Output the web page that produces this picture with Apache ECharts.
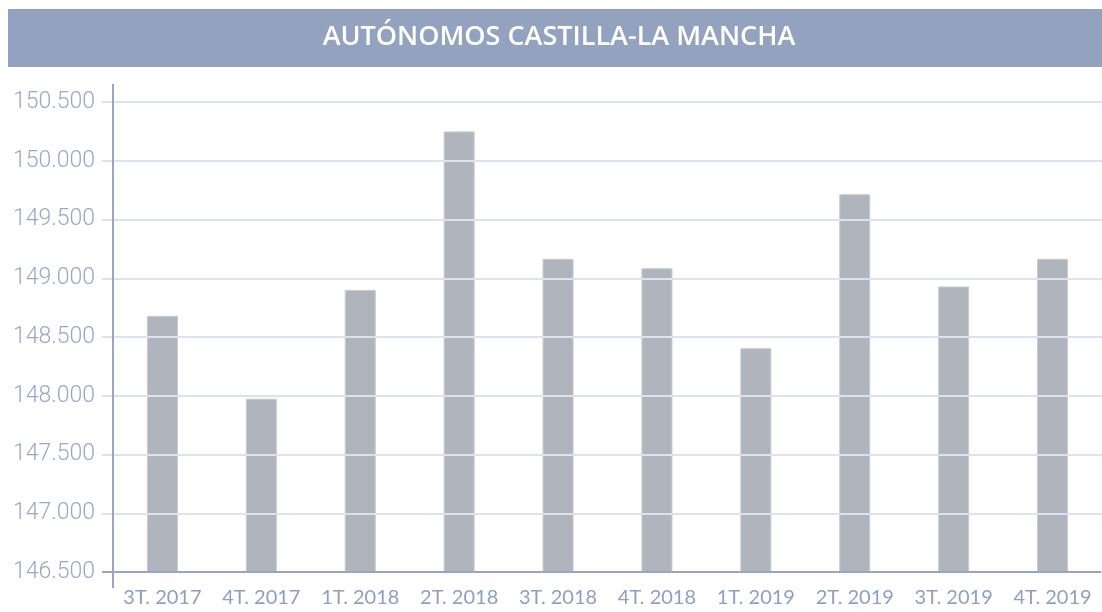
<!DOCTYPE html>
<html>
<head>
<meta charset="utf-8">
<script src="https://cdn.jsdelivr.net/npm/echarts@6/dist/echarts.min.js"></script>
<style>
html,body{margin:0;padding:0;background:#fff;}
#chart{width:1102px;height:612px;}
</style>
</head>
<body>
<div id="chart"></div>
<script>
var titleText = 'AUTÓNOMOS CASTILLA-LA MANCHA';
var categories = ['3T. 2017','4T. 2017','1T. 2018','2T. 2018','3T. 2018','4T. 2018','1T. 2019','2T. 2019','3T. 2019','4T. 2019'];
var values = [148680, 147975, 148900, 150250, 149165, 149085, 148405, 149715, 148930, 149165];
var yMin = 146500, yMax = 150500, yStep = 500;

var G = {left:113, right:0, top:102, bottom:40};
var W = 1102, H = 612;
var axisColor = '#98a6c4';
var gridColor = '#dde3ee';

var chart = echarts.init(document.getElementById('chart'), null, {renderer:'canvas'});
chart.setOption({
  animation:false,
  backgroundColor:'#ffffff',
  title:{
    text:titleText,
    left:554, top:19, textAlign:'center',
    textStyle:{color:'#ffffff', fontFamily:'Open Sans', fontWeight:600, fontSize:27}
  },
  graphic:[
    {type:'rect', z:-1, shape:{x:8,y:9,width:1094,height:58}, style:{fill:'#92a2bf'}},
    {type:'line', z:10, shape:{x1:G.left, y1:G.top-18, x2:G.left, y2:H-G.bottom+16}, style:{stroke:axisColor, lineWidth:2}},
    {type:'line', z:10, shape:{x1:G.left-11, y1:H-G.bottom, x2:W-1, y2:H-G.bottom}, style:{stroke:axisColor, lineWidth:2}}
  ],
  grid:{left:G.left, right:G.right, top:G.top, bottom:G.bottom, containLabel:false},
  xAxis:{
    type:'category', data:categories,
    axisLine:{show:false}, axisTick:{show:false},
    axisLabel:{color:'#8e9fc0', fontFamily:'Lato', fontSize:20, margin:16, interval:0}
  },
  yAxis:{
    type:'value', min:yMin, max:yMax, interval:yStep, z:5,
    axisLine:{show:false},
    axisTick:{show:true, length:11, lineStyle:{color:gridColor, width:2}},
    splitLine:{show:true, lineStyle:{color:gridColor, width:2}},
    axisLabel:{color:'#9aa8c6', fontFamily:'Roboto', fontWeight:300, fontSize:23, margin:18,
      formatter:function(v){return v.toString().replace(/\B(?=(\d{3})+(?!\d))/g,'.');}}
  },
  series:[{
    type:'bar', data:values, barWidth:31,
    itemStyle:{color:'#b0b5bd', borderColor:'#c6cad0', borderWidth:1}
  }]
});
</script>
</body>
</html>
